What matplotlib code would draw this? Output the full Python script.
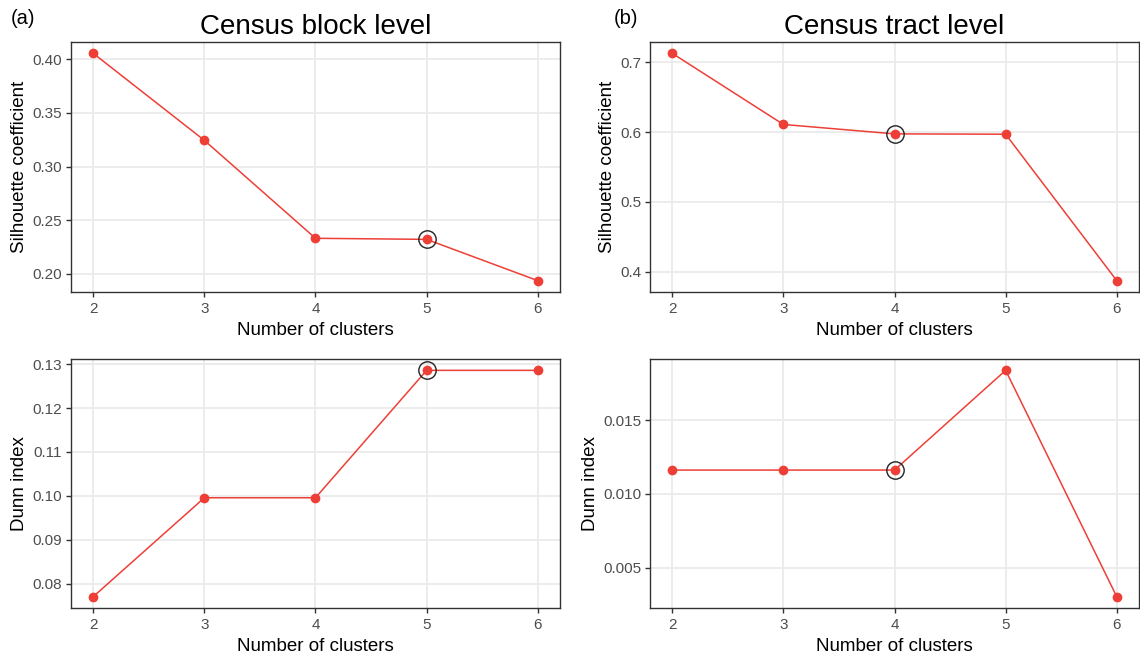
import matplotlib
matplotlib.use("Agg")
import matplotlib.pyplot as plt

# Data.
clusters = [2, 3, 4, 5, 6]
sil_block = [0.4056, 0.3244, 0.2330, 0.2320, 0.1935]
sil_tract = [0.7130, 0.6110, 0.5975, 0.5970, 0.3870]
dunn_block = [0.0770, 0.09955, 0.09955, 0.1286, 0.1286]
dunn_tract = [0.01162, 0.01162, 0.01162, 0.01838, 0.00304]

# Chosen k (circled) for each panel.
best_block = 5
best_tract = 4

sil_block_ticks = [0.20, 0.25, 0.30, 0.35, 0.40]
sil_tract_ticks = [0.4, 0.5, 0.6, 0.7]
dunn_block_ticks = [0.08, 0.09, 0.10, 0.11, 0.12, 0.13]
dunn_tract_ticks = [0.005, 0.010, 0.015]

plt.rcParams.update({
    "font.family": ["Liberation Sans", "DejaVu Sans"],
})

red = "#EE3F37"
grid_col = "#EBEBEB"

fig = plt.figure(figsize=(11.4, 6.56), dpi=100)


def panel(rect, y, ticks, fmt, ylabel, best):
    ax = fig.add_axes(rect)
    ax.plot(clusters, y, color=red, lw=1.1, zorder=3)
    ax.plot(clusters, y, "o", color=red, ms=6, zorder=4)
    i = clusters.index(best)
    ax.plot(clusters[i], y[i], "o", ms=12.5, mfc="none", mec="#222222",
            mew=1.0, zorder=5)

    # ggplot style expansion of 5%
    lo, hi = min(y), max(y)
    pad = (hi - lo) * 0.05
    ax.set_ylim(lo - pad, hi + pad)
    ax.set_xlim(1.8, 6.2)

    ax.set_xticks(clusters)
    ax.set_yticks(ticks)
    ax.set_yticklabels([fmt.format(t) for t in ticks])
    ax.grid(True, color=grid_col, lw=1.3, zorder=0)
    ax.set_axisbelow(True)
    for s in ax.spines.values():
        s.set_color("#333333")
        s.set_linewidth(1.0)
    ax.tick_params(colors="#333333", labelcolor="#4D4D4D", labelsize=11,
                   length=3.5, width=1.0)
    ax.tick_params(axis="x", pad=4)
    ax.tick_params(axis="y", pad=3)
    ax.set_xlabel("Number of clusters", fontsize=13.5, labelpad=4)
    ax.set_ylabel(ylabel, fontsize=13.5, labelpad=3)
    return ax


ax1 = panel([0.0623, 0.5549, 0.4289, 0.3811], sil_block, sil_block_ticks,
            "{:.2f}", "Silhouette coefficient", best_block)
ax2 = panel([0.5702, 0.5549, 0.4289, 0.3811], sil_tract, sil_tract_ticks,
            "{:.1f}", "Silhouette coefficient", best_tract)
ax3 = panel([0.0623, 0.0732, 0.4289, 0.3795], dunn_block, dunn_block_ticks,
            "{:.2f}", "Dunn index", best_block)
ax4 = panel([0.5702, 0.0732, 0.4289, 0.3795], dunn_tract, dunn_tract_ticks,
            "{:.3f}", "Dunn index", best_tract)

ax1.set_title("Census block level", fontsize=20, pad=6)
ax2.set_title("Census tract level", fontsize=20, pad=6)
fig.text(0.009, 0.972, "(a)", fontsize=14.5, va="center")
fig.text(0.538, 0.972, "(b)", fontsize=14.5, va="center")

fig.savefig("out.png", dpi=100)
